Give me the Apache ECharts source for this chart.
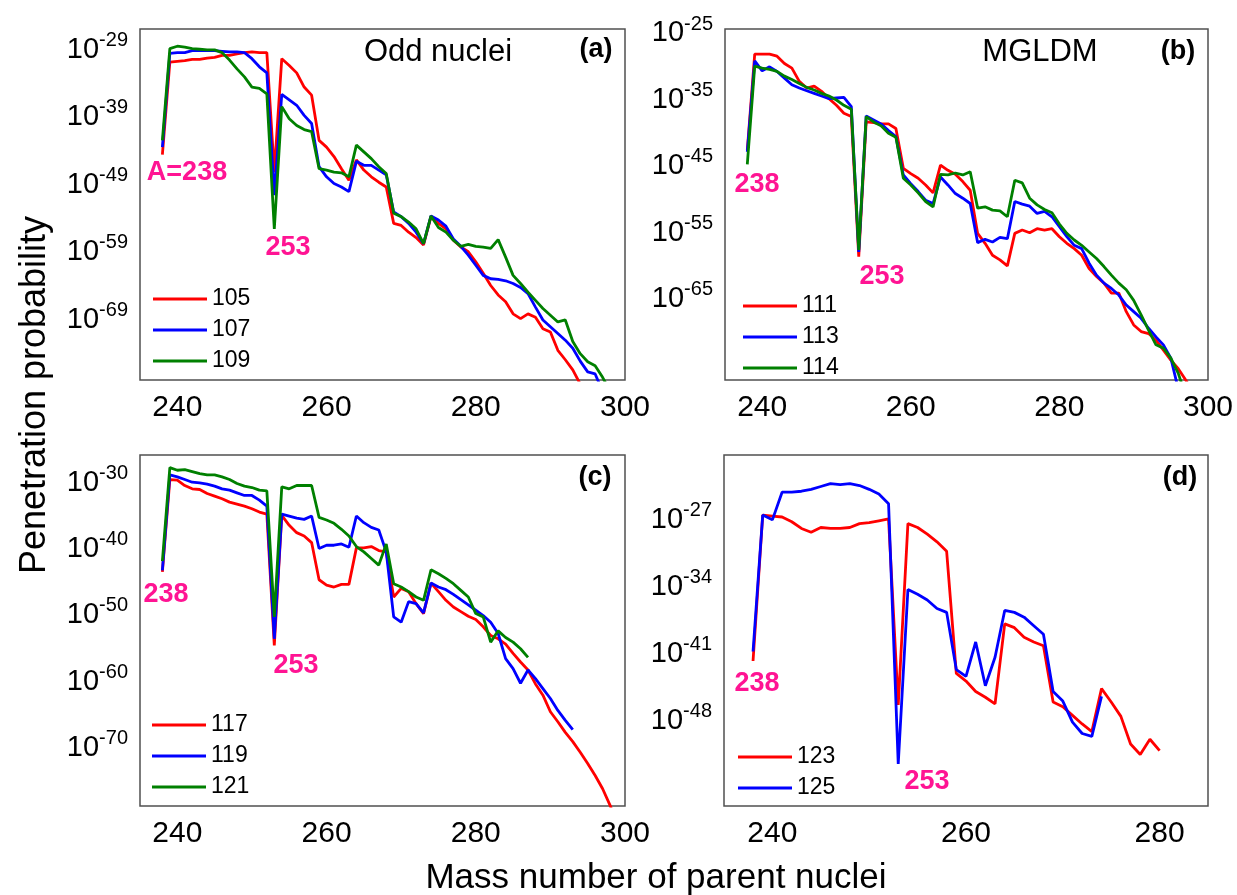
<!DOCTYPE html>
<html>
<head>
<meta charset="utf-8">
<script src="https://cdn.jsdelivr.net/npm/echarts@6/dist/echarts.min.js"></script>
<style>
  html, body { margin: 0; padding: 0; background: #fff; }
  #chart { width: 1237px; height: 895px; }
</style>
</head>
<body>
<div id="chart"></div>
<script>
// mass numbers of parent nuclei (x values, shared by every series)
const mass = [238, 239, 240, 241, 242, 243, 244, 245, 246, 247, 248, 249, 250, 251, 252,
  253, 254, 255, 256, 257, 258, 259, 260, 261, 262, 263, 264, 265, 266, 267, 268,
  269, 270, 271, 272, 273, 274, 275, 276, 277, 278, 279, 280, 281, 282, 283, 284,
  285, 286, 287, 288, 289, 290, 291, 292, 293, 294, 295, 296, 297, 298, 299, 300];

// log10 of penetration probability
// (a) odd nuclei
const z105 = [-44.9, -31.2, -31.1, -31.0, -30.8, -30.8, -30.6, -30.5, -30.2, -30.2, -30.0, -29.8, -29.7, -29.8, -29.8,
  -47.5, -30.7, -31.7, -32.8, -34.9, -36.1, -42.8, -43.8, -45.2, -47.0, -48.7, -45.7, -47.2, -48.2, -49.0, -49.7,
  -55.1, -55.4, -56.4, -57.2, -58.3, -54.1, -55.1, -55.9, -57.6, -58.6, -59.3, -60.8, -62.5, -64.3, -65.7, -66.7,
  -68.5, -69.2, -68.5, -69.0, -70.7, -71.2, -73.9, -75.3, -76.8, -78.9, -81];
const z107 = [-43.8, -29.9, -29.8, -29.8, -29.5, -29.5, -29.5, -29.5, -29.6, -29.7, -29.7, -29.8, -30.7, -31.9, -32.8,
  -50.9, -36.0, -36.8, -37.6, -39.1, -40.3, -46.7, -48.2, -49.2, -49.7, -50.4, -45.9, -46.5, -46.5, -47.2, -47.9,
  -53.4, -54.1, -55.1, -56.4, -58.1, -54.0, -54.6, -55.5, -57.4, -58.5, -59.8, -61.3, -62.8, -63.3, -63.4, -63.6,
  -64.0, -64.6, -65.5, -67.5, -69.4, -70.4, -71.4, -72.4, -73.6, -75.5, -77.1, -77.4, -80];
const z109 = [-42.8, -29.2, -28.85, -29.0, -29.2, -29.3, -29.4, -29.4, -29.8, -30.9, -32.2, -33.4, -34.9, -35.1, -35.9,
  -55.9, -37.8, -39.6, -40.6, -41.2, -41.5, -47.0, -47.2, -47.5, -47.6, -48.2, -43.5, -44.5, -45.5, -46.7, -47.7,
  -53.6, -54.1, -54.9, -55.9, -58.1, -54.0, -55.7, -56.4, -57.6, -58.5, -58.2, -58.5, -58.6, -58.8, -57.5, -60.1,
  -62.8, -64.0, -65.3, -66.5, -67.7, -68.7, -69.7, -69.4, -72.6, -74.4, -75.6, -76.2, -77.9, -80];

// (b) MGLDM
const z111 = [-43.0, -28.5, -28.5, -28.5, -28.8, -29.9, -30.6, -32.6, -33.6, -33.3, -34.1, -35.2, -36.2, -37.4, -37.9,
  -59.0, -38.7, -38.8, -39.0, -39.0, -39.7, -45.7, -46.5, -47.2, -48.2, -49.4, -45.2, -46.0, -46.6, -47.7, -49.0,
  -55.5, -57.0, -58.8, -59.5, -60.4, -55.5, -55.0, -55.4, -54.8, -55.0, -54.8, -56.0, -57.0, -57.8, -58.8, -60.8,
  -62.0, -63.0, -64.5, -64.5, -67.3, -69.3, -70.3, -70.6, -71.6, -73.1, -74.6, -75.9, -77.6, -79.5];
const z113 = [-43.2, -29.5, -31.0, -30.4, -31.1, -32.1, -33.1, -33.6, -34.0, -34.4, -34.8, -35.2, -35.1, -35.0, -36.4,
  -58.3, -37.8, -38.4, -39.0, -40.0, -40.9, -46.7, -48.0, -49.2, -50.5, -51.0, -47.0, -48.2, -49.5, -50.2, -51.0,
  -56.9, -56.4, -56.8, -56.1, -56.3, -50.7, -51.1, -51.4, -52.5, -52.2, -53.0, -54.5, -56.0, -57.3, -57.8, -60.0,
  -61.8, -63.0, -63.8, -64.8, -66.3, -67.3, -68.3, -69.8, -71.1, -72.3, -74.3, -79];
const z114 = [-45.1, -30.3, -30.6, -30.8, -31.1, -31.8, -32.3, -32.9, -33.5, -33.9, -34.4, -34.8, -35.4, -36.2, -36.8,
  -58.0, -37.9, -38.7, -39.3, -40.4, -41.0, -47.2, -48.2, -49.4, -50.7, -51.5, -46.6, -46.7, -46.4, -46.7, -46.2,
  -51.7, -51.5, -52.0, -52.1, -53.0, -47.5, -47.9, -50.2, -51.2, -51.9, -52.4, -54.1, -55.5, -56.5, -57.3, -58.3,
  -59.3, -60.5, -61.8, -63.0, -64.0, -65.6, -67.8, -70.1, -72.3, -72.8, -74.3, -76.6, -80];

// (c)
const z117 = [-43.8, -29.9, -30.0, -30.8, -31.3, -31.4, -32.0, -32.4, -32.8, -33.3, -33.6, -33.9, -34.3, -34.8, -35.1,
  -54.9, -35.3, -36.8, -37.9, -38.4, -39.4, -45.0, -45.8, -46.1, -45.7, -45.7, -40.2, -40.2, -40.0, -40.6, -40.8,
  -47.6, -46.3, -46.8, -48.6, -50.1, -45.5, -46.8, -48.1, -49.1, -49.8, -50.5, -51.0, -52.1, -53.4, -53.9, -54.7,
  -56.1, -57.4, -58.6, -60.7, -62.4, -64.9, -66.4, -68.0, -69.4, -71.0, -72.7, -74.5, -76.5, -79.0, -82];
const z119 = [-43.6, -29.2, -29.5, -29.9, -30.3, -30.4, -30.6, -30.9, -31.3, -31.5, -31.9, -32.3, -32.3, -33.0, -33.9,
  -53.9, -35.1, -35.4, -35.7, -35.9, -35.4, -40.3, -39.8, -39.8, -39.6, -40.1, -35.4, -36.4, -37.1, -37.5, -40.8,
  -50.6, -51.4, -48.3, -48.6, -50.0, -45.5, -46.1, -46.5, -47.2, -48.0, -48.8, -49.6, -50.4, -51.4, -53.1, -56.9,
  -58.4, -60.6, -58.6, -59.9, -61.4, -62.9, -64.7, -66.2, -67.6];
const z121 = [-42.2, -28.1, -28.5, -28.4, -28.7, -29.0, -29.2, -29.2, -29.5, -29.9, -30.5, -30.9, -31.1, -31.5, -31.6,
  -50.6, -31.0, -31.3, -30.8, -30.8, -30.8, -35.6, -36.0, -36.5, -37.4, -38.4, -40.0, -40.8, -41.8, -42.8, -39.6,
  -45.6, -46.1, -46.8, -47.6, -48.1, -43.5, -44.1, -44.8, -45.6, -46.6, -47.6, -50.1, -50.6, -54.4, -52.7, -53.7,
  -54.4, -55.4, -56.7];

// (d)
const z123 = [-42.0, -26.7, -26.8, -26.9, -27.4, -28.1, -28.5, -28.0, -28.1, -28.1, -28.0, -27.6, -27.5, -27.3, -27.1,
  -46.6, -27.6, -28.0, -28.7, -29.5, -30.5, -43.3, -44.1, -45.2, -45.8, -46.5, -38.1, -38.5, -39.5, -40.0, -40.4,
  -46.3, -46.8, -47.7, -48.6, -49.4, -44.9, -46.3, -47.8, -50.7, -51.8, -50.2, -51.4];
const z125 = [-41.0, -26.7, -27.2, -24.3, -24.3, -24.2, -24.0, -23.7, -23.4, -23.5, -23.4, -23.6, -24.0, -24.5, -25.5,
  -52.8, -34.5, -35.0, -35.6, -36.5, -36.9, -42.9, -43.6, -40.0, -44.6, -41.6, -36.7, -36.9, -37.4, -38.3, -39.2,
  -45.2, -46.2, -48.4, -49.6, -49.9, -45.7];

// tick labels
const xTicksWide = [240, 260, 280, 300];
const xTicksNarrow = [240, 260, 280];
const yTicksA = [-29, -39, -49, -59, -69];
const yTicksB = [-25, -35, -45, -55, -65];
const yTicksC = [-30, -40, -50, -60, -70];
const yTicksD = [-27, -34, -41, -48];

const F = '"Liberation Sans", Arial, sans-serif';
const RED = '#ff0000', BLUE = '#0000ff', GREEN = '#008000', PINK = '#ff1493';

const pts = vals => vals.map((v, i) => [mass[i], v]);

function xAxis(gi, max, ticks) {
  return {
    gridIndex: gi, type: 'value', min: 235, max: max,
    axisLine: { show: false }, axisTick: { show: false }, splitLine: { show: false },
    axisLabel: { customValues: ticks, margin: 13, fontSize: 30, fontFamily: F, color: '#000' }
  };
}
function yAxis(gi, min, max, ticks) {
  return {
    gridIndex: gi, type: 'value', min: min, max: max,
    axisLine: { show: false }, axisTick: { show: false }, splitLine: { show: false },
    axisLabel: {
      customValues: ticks, margin: 12,
      formatter: v => '{b|10}{s|' + v + '}',
      rich: {
        b: { fontSize: 29, fontFamily: F, color: '#000', verticalAlign: 'bottom', lineHeight: 34 },
        s: { fontSize: 20, fontFamily: F, color: '#000', verticalAlign: 'top', lineHeight: 34 }
      }
    }
  };
}
function line(name, vals, color, gi) {
  return {
    name: name, type: 'line', xAxisIndex: gi, yAxisIndex: gi, data: pts(vals),
    showSymbol: false, symbol: 'none', lineStyle: { color: color, width: 2.8 }, itemStyle: { color: color },
    animation: false
  };
}
function legend(names, left, top) {
  return {
    data: names, left: left, top: top, orient: 'vertical', icon: 'rect',
    itemWidth: 54, itemHeight: 3, itemGap: 7,
    textStyle: { fontSize: 23, lineHeight: 24, fontFamily: F, color: '#000' }
  };
}
function txt(s, x, y, size, color, bold, rot) {
  return {
    type: 'text', x: x, y: y, rotation: rot || 0,
    style: { text: s, fill: color, font: (bold ? 'bold ' : '') + size + 'px ' + F, textAlign: 'center', textVerticalAlign: 'middle' }
  };
}

const gridStyle = { show: true, borderColor: '#505050', borderWidth: 1.5, backgroundColor: 'transparent' };

const chart = echarts.init(document.getElementById('chart'));
chart.setOption({
  backgroundColor: '#fff',
  animation: false,
  grid: [
    Object.assign({ left: 140, top: 29, width: 485, height: 351 }, gridStyle),
    Object.assign({ left: 725, top: 29, width: 483, height: 351 }, gridStyle),
    Object.assign({ left: 140, top: 455, width: 485, height: 351 }, gridStyle),
    Object.assign({ left: 724, top: 455, width: 484, height: 351 }, gridStyle)
  ],
  xAxis: [xAxis(0, 300, xTicksWide), xAxis(1, 300, xTicksWide), xAxis(2, 300, xTicksWide), xAxis(3, 285, xTicksNarrow)],
  yAxis: [yAxis(0, -78.3, -26.3, yTicksA), yAxis(1, -77.6, -24.7, yTicksB), yAxis(2, -79.1, -26.2, yTicksC), yAxis(3, -57.2, -20.4, yTicksD)],
  legend: [
    legend(['105', '107', '109'], 148, 282),
    legend(['111', '113', '114'], 738, 289),
    legend(['117', '119', '121'], 147, 708),
    legend(['123', '125'], 733, 740)
  ],
  series: [
    line('105', z105, RED, 0), line('107', z107, BLUE, 0), line('109', z109, GREEN, 0),
    line('111', z111, RED, 1), line('113', z113, BLUE, 1), line('114', z114, GREEN, 1),
    line('117', z117, RED, 2), line('119', z119, BLUE, 2), line('121', z121, GREEN, 2),
    line('123', z123, RED, 3), line('125', z125, BLUE, 3)
  ],
  graphic: [
    txt('Penetration probability', 35, 395, 36, '#000', false, Math.PI / 2),
    txt('Mass number of parent nuclei', 656, 878, 35, '#000'),
    txt('Odd nuclei', 438, 52, 31, '#000'),
    txt('(a)', 596, 50, 27, '#000', true),
    txt('MGLDM', 1040, 52, 31, '#000'),
    txt('(b)', 1178, 52, 27, '#000', true),
    txt('(c)', 595, 478, 27, '#000', true),
    txt('(d)', 1180, 478, 27, '#000', true),
    txt('A=238', 187, 173, 27, PINK, true),
    txt('253', 288, 248, 27, PINK, true),
    txt('238', 757, 185, 27, PINK, true),
    txt('253', 882, 277, 27, PINK, true),
    txt('238', 166, 595, 27, PINK, true),
    txt('253', 296, 666, 27, PINK, true),
    txt('238', 757, 684, 27, PINK, true),
    txt('253', 927, 782, 27, PINK, true)
  ]
});
</script>
</body>
</html>
